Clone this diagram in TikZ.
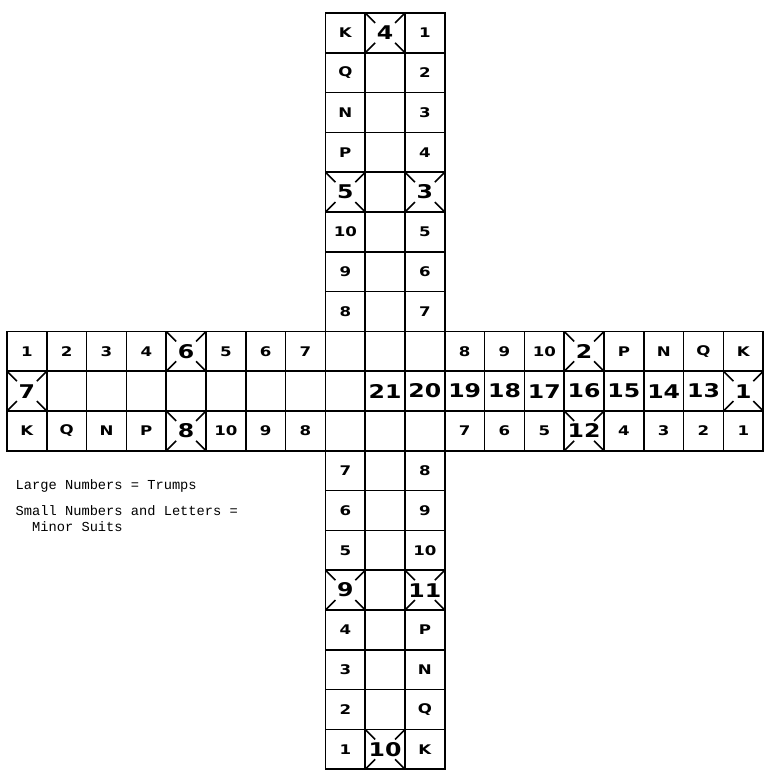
\documentclass[tikz,border=0pt]{standalone}
\usepackage{fontspec}
\newfontfamily\cardfont[FakeStretch=1.25]{DejaVu Sans}
\newfontfamily\notefont{Liberation Mono}

\begin{document}
\begin{tikzpicture}[
    x=1cm, y=-1cm, line width=1.1pt,
    cell/.style={draw, minimum size=1cm, inner sep=0pt, font=\cardfont\bfseries\fontsize{9.5}{10}\selectfont},
    trump/.style={cell, font=\cardfont\bfseries\fontsize{13.5}{14}\selectfont},
    crossed/.style={trump, path picture={
        \draw (path picture bounding box.north west) -- ++(0.25cm,-0.25cm);
        \draw (path picture bounding box.north east) -- ++(-0.25cm,-0.25cm);
        \draw (path picture bounding box.south west) -- ++(0.25cm,0.25cm);
        \draw (path picture bounding box.south east) -- ++(-0.25cm,0.25cm);}},
    legend/.style={anchor=base west, align=left, inner sep=0pt, font=\notefont\fontsize{9.8}{11.8}\selectfont}
]
\useasboundingbox (-0.176,-0.327) rectangle (19.045,19.095);

% empty squares
\foreach \r in {1,2,3,4,5,6,7,11,12,13,14,15,16,17}
    \node[cell] (c9-\r) at (9.5,\r+.5) {};
\foreach \c in {1,...,8}
    \node[cell] (c\c-9) at (\c+.5,9.5) {};
\foreach \c in {8,9,10} {
    \node[cell] (c\c-8) at (\c+.5,8.5) {};
    \node[cell] (c\c-10) at (\c+.5,10.5) {};
}

% minor suits
\foreach \c/\r/\t in {8/0/K, 10/0/1, 8/1/Q, 10/1/2, 8/2/N, 10/2/3, 8/3/P, 10/3/4,
        8/5/10, 10/5/5, 8/6/9, 10/6/6, 8/7/8, 10/7/7,
        0/8/1, 1/8/2, 2/8/3, 3/8/4, 5/8/5, 6/8/6, 7/8/7,
        11/8/8, 12/8/9, 13/8/10, 15/8/P, 16/8/N, 17/8/Q, 18/8/K,
        0/10/K, 1/10/Q, 2/10/N, 3/10/P, 5/10/10, 6/10/9, 7/10/8,
        11/10/7, 12/10/6, 13/10/5, 15/10/4, 16/10/3, 17/10/2, 18/10/1,
        8/11/7, 10/11/8, 8/12/6, 10/12/9, 8/13/5, 10/13/10,
        8/15/4, 10/15/P, 8/16/3, 10/16/N, 8/17/2, 10/17/Q, 8/18/1, 10/18/K}
    \node[cell] (c\c-\r) at (\c+.5,\r+.5) {\t};

% trumps
\foreach \c/\t in {9/21, 10/20, 11/19, 12/18, 13/17, 14/16, 15/15, 16/14, 17/13}
    \node[trump] (c\c-9) at (\c+.5,9.5) {\t};
\foreach \c/\r/\t in {9/0/4, 8/4/5, 10/4/3, 4/8/6, 14/8/2, 0/9/7, 18/9/1,
        4/10/8, 14/10/12, 8/14/9, 10/14/11, 9/18/10}
    \node[crossed] (c\c-\r) at (\c+.5,\r+.5) {\t};

\node[legend] (trumps_note) at (0.2,11.98) {Large Numbers = Trumps};
\node[legend] (suits_note) at (0.2,13.03) {Small Numbers and Letters =\\\phantom{Sm}Minor Suits};
\end{tikzpicture}
\end{document}
